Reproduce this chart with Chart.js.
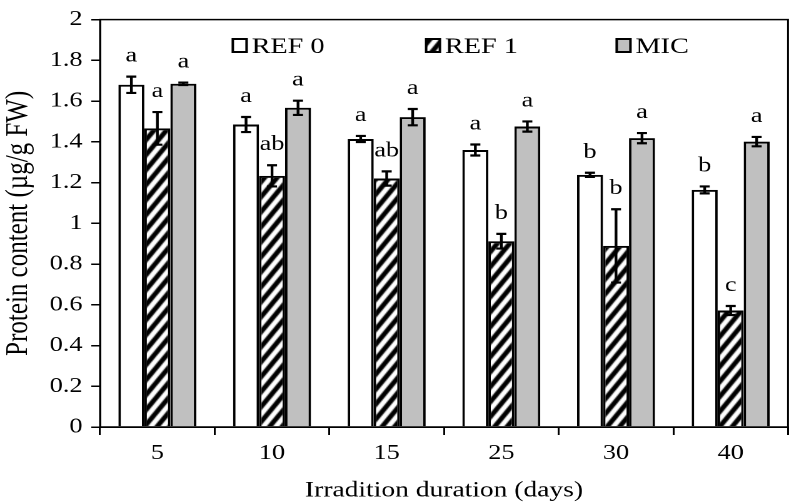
<!DOCTYPE html>
<html>
<head>
<meta charset="utf-8">
<script src="https://cdn.jsdelivr.net/npm/chart.js@4/dist/chart.umd.min.js"></script>
<style>
  html, body { margin: 0; padding: 0; background: #fff; overflow: hidden; }
  /* the reference figure is stretched horizontally, so the chart is drawn narrow and scaled */
  #wrap { width: 635px; height: 504px; transform: scaleX(1.2504); transform-origin: 0 0; }
</style>
</head>
<body>
<div id="wrap"><canvas id="chart"></canvas></div>
<script>
// categories and tick labels
const days = ['5', '10', '15', '25', '30', '40'];
const yTicks = ['0', '0.2', '0.4', '0.6', '0.8', '1', '1.2', '1.4', '1.6', '1.8', '2'];
const seriesNames = ['REF 0', 'REF 1', 'MIC'];

// protein content (µg/g FW)
const ref0 = [1.68, 1.485, 1.414, 1.36, 1.238, 1.164];
const ref1 = [1.466, 1.233, 1.22, 0.912, 0.889, 0.572];
const mic = [1.685, 1.567, 1.521, 1.475, 1.418, 1.401];

// error bars
const ref0Err = [0.04, 0.037, 0.015, 0.027, 0.01, 0.017];
const ref1Err = [0.08, 0.052, 0.035, 0.036, 0.18, 0.022];
const micErr = [0.006, 0.035, 0.04, 0.025, 0.025, 0.023];

// significance letters
const ref0Letters = ['a', 'a', 'a', 'a', 'b', 'b'];
const ref1Letters = ['a', 'ab', 'ab', 'b', 'b', 'c'];
const micLetters = ['a', 'a', 'a', 'a', 'a', 'a'];

const FONT = '"Liberation Serif", "Times New Roman", serif';
Chart.defaults.font.family = FONT;
Chart.defaults.color = '#000';

// black diagonal hatch for REF 1
function makeHatch() {
  const w = 10, h = 15;
  const c = document.createElement('canvas');
  c.width = w; c.height = h;
  const g = c.getContext('2d');
  g.fillStyle = '#fff';
  g.fillRect(0, 0, w, h);
  g.strokeStyle = '#000';
  g.lineWidth = 4.2;
  g.beginPath();
  g.moveTo(-w, h); g.lineTo(w, -h);
  g.moveTo(0, h); g.lineTo(w, 0);
  g.moveTo(0, 2 * h); g.lineTo(2 * w, 0);
  g.stroke();
  return g.createPattern(c, 'repeat');
}
const hatch = makeHatch();
const fills = ['#ffffff', hatch, '#c0c0c0'];

// error bars + letters above them
const errorBars = {
  id: 'errorBars',
  afterDatasetsDraw(chart) {
    const ctx = chart.ctx, y = chart.scales.y;
    ctx.save();
    ctx.strokeStyle = '#000';
    ctx.lineWidth = 2.2;
    ctx.fillStyle = '#000';
    ctx.font = '21px ' + FONT;
    ctx.textAlign = 'center';
    ctx.textBaseline = 'alphabetic';
    chart.data.datasets.forEach((ds, i) => {
      chart.getDatasetMeta(i).data.forEach((bar, j) => {
        const v = ds.data[j], e = ds.err[j];
        const top = y.getPixelForValue(v + e);
        const bot = y.getPixelForValue(v - e);
        ctx.beginPath();
        ctx.moveTo(bar.x, top); ctx.lineTo(bar.x, bot);
        ctx.moveTo(bar.x - 4, top); ctx.lineTo(bar.x + 4, top);
        ctx.moveTo(bar.x - 4, bot); ctx.lineTo(bar.x + 4, bot);
        ctx.stroke();
        ctx.fillText(ds.letters[j], bar.x, top - 15);
      });
    });
    ctx.restore();
  }
};

// box round the plot and the legend inside it
const frameAndLegend = {
  id: 'frameAndLegend',
  afterDraw(chart) {
    const ctx = chart.ctx, a = chart.chartArea;
    ctx.save();
    ctx.strokeStyle = '#000';
    ctx.lineWidth = 1.5;
    ctx.strokeRect(a.left, a.top, a.right - a.left, a.bottom - a.top);

    const starts = [0.193, 0.474, 0.751];
    ctx.font = '22.6px ' + FONT;
    ctx.textBaseline = 'alphabetic';
    ctx.textAlign = 'left';
    chart.data.datasets.forEach((ds, i) => {
      const x = a.left + starts[i] * (a.right - a.left);
      ctx.fillStyle = ds.backgroundColor;
      ctx.fillRect(x, 39, 11, 13);
      ctx.lineWidth = 2;
      ctx.strokeRect(x, 39, 11, 13);
      ctx.fillStyle = '#000';
      ctx.fillText(ds.label, x + 15, 53);
    });
    ctx.restore();
  }
};

const datasets = [ref0, ref1, mic].map((d, i) => ({
  label: seriesNames[i],
  data: d,
  err: [ref0Err, ref1Err, micErr][i],
  letters: [ref0Letters, ref1Letters, micLetters][i],
  backgroundColor: fills[i],
  borderColor: '#000',
  borderWidth: 2,
  categoryPercentage: 0.68,
  barPercentage: 1
}));

new Chart(document.getElementById('chart'), {
  type: 'bar',
  data: { labels: days, datasets },
  plugins: [errorBars, frameAndLegend],
  options: {
    responsive: true,
    maintainAspectRatio: false,
    devicePixelRatio: 2,
    animation: false,
    layout: { padding: { top: 15, right: 4.8, left: 0, bottom: 0 } },
    plugins: { legend: { display: false }, tooltip: { enabled: false } },
    scales: {
      x: {
        afterFit(s) { s.height = 77; },
        grid: { offset: true, drawOnChartArea: false, color: '#000', lineWidth: 1.5, tickLength: 8 },
        border: { display: true, color: '#000', width: 1.5 },
        ticks: { font: { size: 21 }, padding: 6, maxRotation: 0 },
        title: { display: true, text: 'Irradition duration (days)', font: { size: 22, lineHeight: 1.2 }, padding: { top: 0, bottom: 0 } }
      },
      y: {
        min: 0,
        max: 2,
        afterFit(s) { s.width = 80; },
        grid: { drawOnChartArea: false, color: '#000', lineWidth: 1.5, tickLength: 7 },
        border: { display: true, color: '#000', width: 1.5 },
        ticks: { stepSize: 0.2, font: { size: 21 }, padding: 7, callback: (v, i) => yTicks[i] },
        title: { display: true, text: 'Protein content (µg/g FW)', font: { size: 25, lineHeight: 1.2 }, padding: { top: 0, bottom: 0 } }
      }
    }
  }
});
</script>
</body>
</html>
